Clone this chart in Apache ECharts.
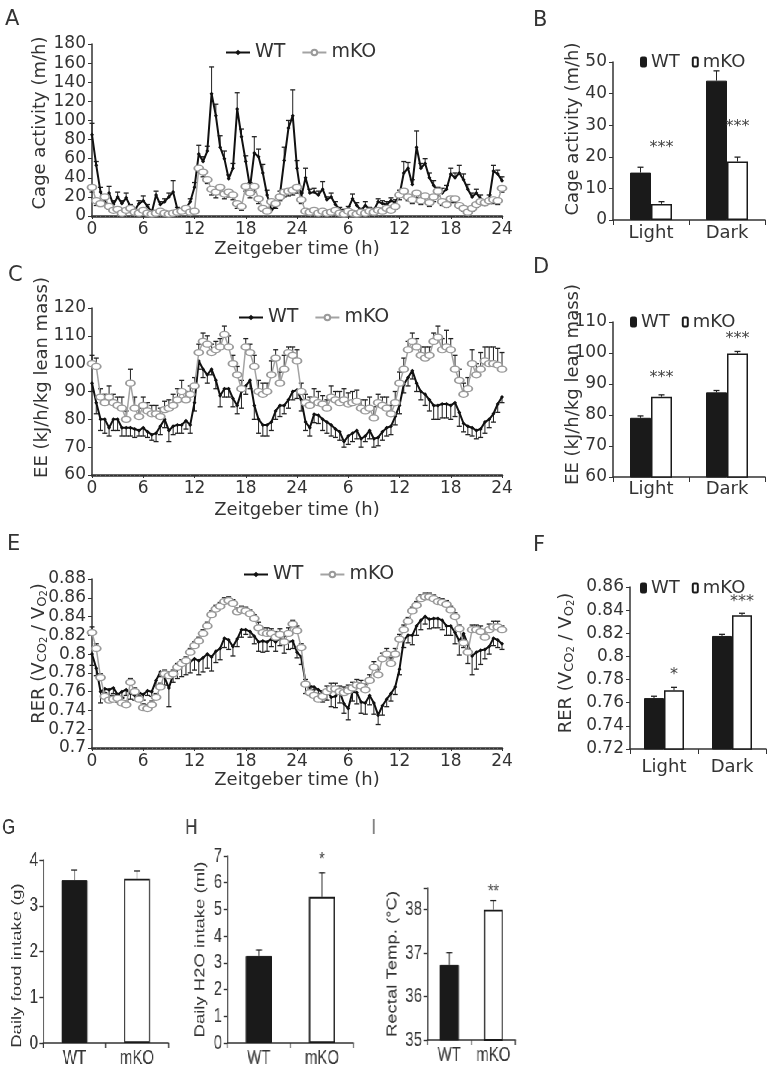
<!DOCTYPE html>
<html>
<head>
<meta charset="utf-8">
<title>Metabolic phenotype WT vs mKO</title>
<script src="https://cdn.jsdelivr.net/npm/echarts@6.0.0/dist/echarts.min.js"></script>
<style>
  html, body { margin: 0; padding: 0; background: #ffffff; }
  #page { position: relative; width: 773px; height: 1073px; overflow: hidden; background: #ffffff; }
  .layer { position: absolute; left: 0; top: 0; }
</style>
</head>
<body>
<div id="page"></div>
<script>
// ======================= DATA =======================
const TIME_STEP_H = 0.5;                       // sampling step of the time courses (h)
const HOUR_TICK_LABELS = ['0','6','12','18','24','6','12','18','24'];
const PHASES = ['Light', 'Dark'];
const GENOTYPES = ['WT', 'mKO'];

// --- A: cage activity (m/h), 0..48 h ---
const activityWT = [
  85,53,25,13,24,12,20,13,19,10,6,13,
  16,10,4,22,12,15,20,25,7,5,8,15,
  30,65,57,68,128,105,72,60,39,50,112,83,
  57,30,66,62,45,22,6,10,22,58,92,105,
  50,20,40,24,25,22,28,17,20,12,7,5,
  8,18,11,6,11,7,6,15,13,12,16,14,
  22,45,50,33,72,50,55,40,32,26,24,28,
  44,40,45,38,28,20,24,18,12,18,47,44,
  37];
const activityWTErr = [
  12,4,5,6,7,4,5,3,5,2,2,3,
  5,2,2,4,3,3,4,12,2,2,2,3,
  5,9,5,5,28,12,12,8,4,5,17,8,
  6,5,17,8,9,5,2,3,4,14,8,27,
  8,4,10,4,4,4,8,3,4,3,2,2,
  2,5,3,2,4,2,2,3,3,3,3,3,
  5,12,6,5,17,5,5,5,5,4,5,4,
  6,5,8,6,5,4,4,4,3,4,6,4,
  4];
const activityKO = [
  30,16,13,20,10,6,7,3,6,8,4,3,
  6,3,2,3,5,3,2,3,4,5,8,4,
  5,50,46,38,28,25,30,23,25,22,13,10,
  31,24,31,18,8,5,15,13,20,25,26,27,
  30,17,5,4,6,3,5,3,4,6,3,2,
  5,3,2,4,3,5,4,6,5,8,6,10,
  22,26,20,17,24,16,21,14,20,26,15,12,
  18,18,11,8,4,8,12,15,14,16,17,16,
  29];
const activityKOErr = [
  5,5,3,6,3,2,3,2,2,2,2,1,
  2,1,1,1,2,1,1,1,2,2,3,2,
  2,4,5,4,6,6,5,5,5,5,5,4,
  5,5,6,5,3,2,4,5,4,5,5,5,
  6,4,2,1,2,1,2,1,1,2,1,1,
  2,1,1,2,1,2,1,2,2,3,2,3,
  5,5,4,4,5,4,5,4,5,5,4,3,
  4,4,3,3,2,3,3,3,3,3,4,4,
  4];

// --- C: energy expenditure (kJ/h/kg lean mass) ---
const eeWT = [
  93,86,80,80,77,80,80,77,77,77,76.5,76,
  77,75.5,74.5,75,77.5,80,76,77.5,78,78,79.5,78,
  86,101,98,96,98,94,88.5,91,91,87.5,85,90,
  92,94,85,80,78,78,79,83,85,85,87,90,
  90.5,87,79,77,81.8,81.5,80,79,78,76.5,75.5,72,
  74,75,76,73,74,76,73,73.5,75.5,77,77.5,81,
  85,92.5,95,97.5,93,90,89,87,85,85,85.5,85.5,
  85,86,82.5,78.5,77.5,77,76,76.5,79,80,82,85.5,
  88];
const eeWTErr = [
  3,4,4,5,3,4,4,3,3,3,3,2,
  3,2,2,3,3,3,4,3,3,3,3,3,
  3,3,3,3,2,3,4,3,3,3,3,6,
  3,3,5,5,4,4,3,3,4,3,3,3,
  3,4,3,3,3,3,4,4,4,3,3,2,
  3,3,3,3,2,3,3,3,3,3,3,3,
  3,3,3,3,3,3,4,4,5,5,5,5,
  5,5,5,3,3,3,3,3,4,3,3,3,
  2];
const eeKO = [
  100,99,88,86,88,86,85,84,80,93,84,81,
  85,83,82,82,81,83.5,84,85,87,90,87,89,
  92,104,108,107,104,105,106,110.5,106,100,96,91,
  106,104,99,90,89,90,96,102,93,98,104,103,
  101,90,86,85,87,86,85.5,84,88,87,86,87,
  85.5,86,86.5,84,83,84,80.5,86,85,84,82,86,
  93,98,105,108,106,103,102,103,108,109.5,105,106,
  105,98,94,89,91,100,96,98,101,100,100,99.5,
  98];
const eeKOErr = [
  3,3,3,3,4,3,3,4,3,5,4,3,
  3,3,3,3,3,3,3,4,4,4,3,3,
  3,3,3,3,3,3,3,3,4,3,3,3,
  3,3,4,4,4,3,5,3,4,5,2,3,
  4,3,3,3,4,4,3,3,4,3,4,4,
  4,4,4,3,4,4,4,3,3,4,3,4,
  4,4,3,3,3,3,4,3,3,4,4,6,
  4,5,4,4,4,5,4,6,5,6,6,6,
  6];

// --- E: respiratory exchange ratio ---
const rerWT = [
  .800,.785,.760,.763,.762,.764,.757,.760,.762,.758,.756,.759,
  .757,.761,.760,.772,.781,.775,.764,.778,.784,.788,.790,.792,
  .795,.793,.796,.800,.797,.803,.806,.817,.815,.808,.816,.826,
  .826,.824,.819,.813,.814,.813,.816,.813,.817,.811,.813,.814,
  .802,.797,.770,.766,.765,.762,.759,.761,.754,.755,.760,.747,
  .742,.760,.759,.749,.748,.756,.748,.735,.745,.752,.758,.765,
  .784,.815,.820,.820,.830,.836,.840,.837,.838,.838,.836,.830,
  .830,.823,.814,.822,.810,.798,.802,.804,.805,.808,.817,.815,
  .811];
const rerWTErr = [
  .012,.008,.012,.008,.006,.006,.008,.006,.006,.006,.005,.006,
  .006,.005,.005,.006,.005,.008,.020,.008,.010,.012,.012,.012,
  .012,.015,.015,.015,.015,.012,.012,.010,.010,.010,.008,.008,
  .005,.006,.008,.010,.012,.010,.008,.010,.008,.010,.008,.008,
  .006,.008,.012,.010,.010,.010,.010,.010,.010,.012,.012,.010,
  .012,.010,.012,.012,.012,.010,.012,.010,.010,.008,.008,.008,
  .006,.008,.008,.010,.010,.010,.008,.010,.010,.010,.010,.010,
  .010,.012,.015,.015,.020,.020,.018,.015,.010,.008,.008,.008,
  .006];
const rerKO = [
  .823,.806,.775,.755,.751,.752,.753,.748,.746,.770,.760,.752,
  .743,.742,.746,.754,.765,.779,.777,.779,.786,.790,.793,.802,
  .809,.814,.822,.830,.842,.848,.851,.856,.857,.854,.845,.847,
  .846,.843,.838,.828,.823,.822,.822,.818,.821,.813,.822,.832,
  .825,.807,.768,.759,.756,.752,.755,.760,.763,.763,.760,.759,
  .761,.764,.767,.766,.762,.772,.786,.778,.795,.800,.790,.800,
  .816,.826,.835,.846,.852,.859,.861,.861,.859,.856,.855,.853,
  .847,.840,.827,.812,.802,.826,.826,.824,.818,.826,.829,.829,
  .826];
const rerKOErr = [
  .006,.005,.004,.004,.004,.004,.004,.005,.004,.004,.004,.004,
  .004,.004,.004,.004,.004,.004,.004,.004,.004,.004,.004,.004,
  .004,.004,.004,.004,.004,.004,.004,.004,.004,.004,.004,.004,
  .004,.004,.004,.006,.005,.006,.005,.006,.006,.006,.006,.004,
  .005,.004,.005,.005,.006,.006,.006,.006,.006,.006,.006,.006,
  .006,.006,.006,.006,.006,.006,.006,.006,.006,.006,.006,.006,
  .005,.005,.004,.004,.004,.004,.004,.004,.004,.004,.004,.004,
  .004,.004,.004,.004,.004,.005,.005,.006,.006,.006,.006,.006,
  .004];

// --- B / D / F: light vs dark phase means ---
const activityPhaseWT = [15.0, 44.1];   const activityPhaseWTErr = [1.7, 3.1];
const activityPhaseKO = [5.1, 18.5];    const activityPhaseKOErr = [0.7, 1.4];
const activityPhaseSig = ['***', '***'];

const eePhaseWT = [79.1, 87.3];         const eePhaseWTErr = [0.6, 0.6];
const eePhaseKO = [85.9, 99.8];         const eePhaseKOErr = [0.6, 0.7];
const eePhaseSig = ['***', '***'];

const rerPhaseWT = [0.764, 0.8177];     const rerPhaseWTErr = [0.0016, 0.0014];
const rerPhaseKO = [0.7707, 0.8355];    const rerPhaseKOErr = [0.0026, 0.0018];
const rerPhaseSig = ['*', '***'];

// --- G / H / I ---
const foodIntake = [3.56, 3.59];        const foodIntakeErr = [0.22, 0.17];
const waterIntake = [3.26, 5.47];       const waterIntakeErr = [0.22, 0.9];
const waterIntakeSig = ['', '*'];
const rectalTemp = [36.73, 38.0];       const rectalTempErr = [0.28, 0.21];
const rectalTempSig = ['', '**'];

// ======================= STYLE / LAYOUT =======================
const FONT_TOP = "'DejaVu Sans', 'Liberation Sans', sans-serif";
const FONT_BOT = "'Liberation Sans', Arial, sans-serif";
const TXT = '#333333';
const AX = '#333333';
const INK = '#1a1a1a';
const KO_GREY = '#a3a3a3';
const BOTTOM_SCALE_X = 0.75;            // bottom row of the figure is horizontally compressed

const page = document.getElementById('page');
function layer(parent, w, h) {
  const d = document.createElement('div');
  d.className = 'layer';
  d.style.width = w + 'px';
  d.style.height = h + 'px';
  parent.appendChild(d);
  return d;
}
function letterTitle(letter, xy, font, size) {
  return { text: letter, left: xy[0], top: xy[1], padding: 0,
    textStyle: { fontFamily: font, fontSize: size || 21, fontWeight: 'normal', color: TXT } };
}
function errRenderer(offsetPx, capHalf) {
  return function (params, api) {
    const x = api.value(0), y = api.value(1), e = api.value(2);
    const p0 = api.coord([x, y]);
    const p1 = api.coord([x, y + e]);
    const cx = p0[0] + offsetPx;
    return { type: 'group', children: [
      { type: 'line', shape: { x1: cx, y1: p0[1], x2: cx, y2: p1[1] }, style: { stroke: '#222', lineWidth: 1 } },
      { type: 'line', shape: { x1: cx - capHalf, y1: p1[1], x2: cx + capHalf, y2: p1[1] }, style: { stroke: '#222', lineWidth: 1.3 } }
    ] };
  };
}
function starRenderer(texts, offsetPx, font, size) {
  return function (params, api) {
    const p = api.coord([api.value(0), api.value(1)]);
    return { type: 'text', x: p[0] + offsetPx, y: p[1],
      style: { text: texts[params.dataIndex], fill: '#444', fontSize: size, fontFamily: font,
        align: 'center', verticalAlign: 'middle' } };
  };
}
const rerName = 'RER (V{s|CO}{b|2} / V{s|O}{b|2})';
function rerRich(font) {
  return {
    s: { fontSize: 13, fontFamily: font, color: TXT, verticalAlign: 'bottom', lineHeight: 20 },
    b: { fontSize: 10, fontFamily: font, color: TXT, verticalAlign: 'bottom', lineHeight: 20 }
  };
}

// ---------- time-course panels (A, C, E) ----------
function timePanel(P) {
  const chart = echarts.init(layer(page, 773, 1073), null, { renderer: 'canvas', width: 773, height: 1073 });
  const xy = vals => vals.map((v, i) => [i * TIME_STEP_H, v]);
  const xye = (vals, errs, sign) => vals.map((v, i) => [i * TIME_STEP_H, v, sign * errs[i]]);
  chart.setOption({
    animation: false,
    title: letterTitle(P.letter, P.letterXY, FONT_TOP),
    legend: {
      left: P.legendXY[0], top: P.legendXY[1], padding: 0, itemGap: 16, itemWidth: 24, itemHeight: 7,
      textStyle: { fontFamily: FONT_TOP, fontSize: 19, color: TXT },
      data: ['WT', 'mKO']
    },
    grid: Object.assign({ containLabel: false, outerBoundsMode: 'none' }, P.grid),
    xAxis: {
      type: 'value', min: 0, max: 48, interval: 6,
      name: 'Zeitgeber time (h)', nameLocation: 'middle', nameGap: P.xNameGap, nameMoveOverlap: false,
      nameTextStyle: { fontFamily: FONT_TOP, fontSize: 18, color: TXT },
      axisLine: { show: true, onZero: false, lineStyle: { color: AX, width: 2.5 } },
      axisTick: { show: true, length: 3, lineStyle: { color: AX, width: 1 } },
      minorTick: { show: true, splitNumber: 12, length: 2, lineStyle: { color: '#666', width: 1 } },
      splitLine: { show: false }, minorSplitLine: { show: false },
      axisLabel: { fontFamily: FONT_TOP, fontSize: 17, color: TXT, margin: 5, hideOverlap: false,
        formatter: v => HOUR_TICK_LABELS[Math.round(v / 6)] }
    },
    yAxis: {
      type: 'value', min: P.y.min, max: P.y.max, interval: P.y.interval,
      name: P.y.name, nameLocation: 'middle', nameGap: P.y.nameGap, nameMoveOverlap: false,
      nameTextStyle: { fontFamily: FONT_TOP, fontSize: 18, color: TXT, padding: [0, 0, 0, P.y.namePad],
        rich: rerRich(FONT_TOP) },
      axisLine: { show: true, onZero: false, lineStyle: { color: AX, width: 1.5 } },
      axisTick: { show: true, length: 4, lineStyle: { color: AX, width: 1 } },
      splitLine: { show: false },
      axisLabel: { fontFamily: FONT_TOP, fontSize: 17, color: TXT, margin: 6, hideOverlap: false }
    },
    series: [
      { type: 'custom', name: 'WT err', data: xye(P.wt, P.wtErr, P.wtSign), encode: { x: 0, y: 1 },
        renderItem: errRenderer(0, 2.5), silent: true, z: 1 },
      { type: 'custom', name: 'mKO err', data: xye(P.ko, P.koErr, P.koSign), encode: { x: 0, y: 1 },
        renderItem: errRenderer(0, 2.5), silent: true, z: 1 },
      { type: 'line', name: 'WT', data: xy(P.wt), symbol: 'diamond', symbolSize: 4,
        itemStyle: { color: '#111' }, lineStyle: { color: '#111', width: 2 }, z: 3 },
      { type: 'line', name: 'mKO', data: xy(P.ko), symbol: 'circle', symbolSize: [9, 6],
        itemStyle: { color: '#ffffff', borderColor: '#9a9a9a', borderWidth: 1.5 },
        lineStyle: { color: KO_GREY, width: 1.5 }, z: 4 }
    ]
  });
}

// ---------- phase bar panels (B, D, F) ----------
function phasePanel(P) {
  const chart = echarts.init(layer(page, 773, 1073), null, { renderer: 'canvas', width: 773, height: 1073 });
  const half = P.barW / 2;
  const withErr = (vals, errs) => vals.map((v, i) => [i, v, errs[i]]);
  chart.setOption({
    animation: false,
    title: letterTitle(P.letter, P.letterXY, FONT_TOP),
    legend: {
      left: P.legendXY[0], top: P.legendXY[1], padding: 0, itemGap: 12, itemWidth: 5, itemHeight: 9,
      textStyle: { fontFamily: FONT_TOP, fontSize: 18, color: TXT },
      data: ['WT', 'mKO']
    },
    grid: Object.assign({ containLabel: false, outerBoundsMode: 'none' }, P.grid),
    xAxis: {
      type: 'category', data: PHASES,
      axisLine: { show: true, lineStyle: { color: AX, width: 1.5 } },
      axisTick: { show: true, length: 5, alignWithLabel: false, lineStyle: { color: AX, width: 1 } },
      axisLabel: { fontFamily: FONT_TOP, fontSize: 18, color: TXT, margin: P.xLabelMargin,
        interval: 0, hideOverlap: false }
    },
    yAxis: {
      type: 'value', min: P.y.min, max: P.y.max, interval: P.y.interval,
      name: P.y.name, nameLocation: 'middle', nameGap: P.y.nameGap, nameMoveOverlap: false,
      nameTextStyle: { fontFamily: FONT_TOP, fontSize: 18, color: TXT, padding: [0, 0, 0, P.y.namePad],
        rich: rerRich(FONT_TOP) },
      axisLine: { show: true, lineStyle: { color: AX, width: 1.5 } },
      axisTick: { show: true, length: 4, lineStyle: { color: AX, width: 1 } },
      splitLine: { show: false },
      axisLabel: { fontFamily: FONT_TOP, fontSize: 17, color: TXT, margin: 6, hideOverlap: false }
    },
    series: [
      { type: 'bar', name: 'WT', data: P.wt, barWidth: P.barW, barGap: '0%',
        itemStyle: { color: INK, borderColor: INK, borderWidth: 1 } },
      { type: 'bar', name: 'mKO', data: P.ko, barWidth: P.barW, barGap: '0%',
        itemStyle: { color: '#ffffff', borderColor: INK, borderWidth: 1.5 } },
      { type: 'custom', data: withErr(P.wt, P.wtErr), encode: { x: 0, y: 1 },
        renderItem: errRenderer(-half, 3), silent: true, z: 5 },
      { type: 'custom', data: withErr(P.ko, P.koErr), encode: { x: 0, y: 1 },
        renderItem: errRenderer(half, 3), silent: true, z: 5 },
      { type: 'custom', data: P.starLevel.map((v, i) => [i, v]), encode: { x: 0, y: 1 },
        renderItem: starRenderer(P.sig, half, FONT_TOP, 16), silent: true, z: 6 }
    ]
  });
}

// ---------- genotype bar panels (G, H, I) in the compressed bottom row ----------
const bottomWrap = document.createElement('div');
bottomWrap.className = 'layer';
bottomWrap.style.width = (773 / BOTTOM_SCALE_X) + 'px';
bottomWrap.style.height = '1073px';
bottomWrap.style.transformOrigin = '0 0';
bottomWrap.style.transform = 'scaleX(' + BOTTOM_SCALE_X + ')';
page.appendChild(bottomWrap);
const sx = v => v / BOTTOM_SCALE_X;

function genoPanel(P) {
  const W = 773 / BOTTOM_SCALE_X;
  const chart = echarts.init(layer(bottomWrap, W, 1073), null, { renderer: 'canvas', width: W, height: 1073 });
  const barData = P.vals.map((v, i) => ({ value: v,
    itemStyle: i === 0 ? { color: INK, borderColor: INK, borderWidth: 1 }
                       : { color: '#ffffff', borderColor: INK, borderWidth: 1.8 } }));
  const series = [
    { type: 'bar', data: barData, barWidth: P.barW },
    { type: 'custom', data: P.vals.map((v, i) => [i, v, P.errs[i]]), encode: { x: 0, y: 1 },
      renderItem: errRenderer(0, 4), silent: true, z: 5 }
  ];
  if (P.sig) {
    series.push({ type: 'custom', data: P.vals.map((v, i) => [i, P.starLevel]), encode: { x: 0, y: 1 },
      renderItem: starRenderer(P.sig, 0, FONT_BOT, 19), silent: true, z: 6 });
  }
  chart.setOption({
    animation: false,
    title: letterTitle(P.letter, P.letterXY, FONT_BOT, 22),
    grid: Object.assign({ containLabel: false, outerBoundsMode: 'none' }, P.grid),
    xAxis: {
      type: 'category', data: GENOTYPES,
      axisLine: { show: true, lineStyle: { color: AX, width: 1.6 } },
      axisTick: { show: true, length: 5, alignWithLabel: false, lineStyle: { color: AX, width: 1.4 } },
      axisLabel: { fontFamily: FONT_BOT, fontSize: 20, color: TXT, margin: 5, interval: 0, hideOverlap: false }
    },
    yAxis: {
      type: 'value', min: P.y.min, max: P.y.max, interval: P.y.interval,
      name: P.y.name, nameLocation: 'middle', nameGap: P.y.nameGap, nameMoveOverlap: false,
      nameTextStyle: { fontFamily: FONT_BOT, fontSize: 18.5, color: TXT, padding: P.y.namePadding },
      axisLine: { show: true, lineStyle: { color: AX, width: 1.6 } },
      axisTick: { show: true, length: 5, lineStyle: { color: AX, width: 1.4 } },
      splitLine: { show: false },
      axisLabel: { fontFamily: FONT_BOT, fontSize: 20, color: TXT, margin: 7, hideOverlap: false,
        formatter: v => (Number.isInteger(v) ? String(v) : '') }
    },
    series: series
  });
}

// ======================= BUILD =======================
timePanel({ letter: 'A', letterXY: [5, 9], legendXY: [225, 43], xNameGap: 24,
  grid: { left: 92, top: 44, width: 410, height: 172 },
  y: { min: 0, max: 180, interval: 20, name: 'Cage activity (m/h)', nameGap: 43, namePad: 14 },
  wt: activityWT, wtErr: activityWTErr, wtSign: 1, ko: activityKO, koErr: activityKOErr, koSign: -1 });

timePanel({ letter: 'C', letterXY: [8, 265], legendXY: [238, 308], xNameGap: 26,
  grid: { left: 92, top: 308, width: 410, height: 167 },
  y: { min: 60, max: 120, interval: 10, name: 'EE (kJ/h/kg lean mass)', nameGap: 41, namePad: 28 },
  wt: eeWT, wtErr: eeWTErr, wtSign: -1, ko: eeKO, koErr: eeKOErr, koSign: 1 });

timePanel({ letter: 'E', letterXY: [7, 534], legendXY: [243, 565], xNameGap: 23,
  grid: { left: 92, top: 579, width: 410, height: 169 },
  y: { min: 0.7, max: 0.88, interval: 0.02, name: rerName, nameGap: 43, namePad: 20 },
  wt: rerWT, wtErr: rerWTErr, wtSign: -1, ko: rerKO, koErr: rerKOErr, koSign: 1 });

phasePanel({ letter: 'B', letterXY: [533, 10], legendXY: [640, 53], xLabelMargin: 4, barW: 21,
  grid: { left: 613, top: 62, width: 152, height: 158 },
  y: { min: 0, max: 50, interval: 10, name: 'Cage activity (m/h)', nameGap: 31, namePad: 24 },
  wt: activityPhaseWT, wtErr: activityPhaseWTErr, ko: activityPhaseKO, koErr: activityPhaseKOErr,
  sig: activityPhaseSig, starLevel: [22.8, 29.4] });

phasePanel({ letter: 'D', letterXY: [533, 257], legendXY: [630, 313], xLabelMargin: 3, barW: 21,
  grid: { left: 613, top: 322, width: 152, height: 155 },
  y: { min: 60, max: 110, interval: 10, name: 'EE (kJ/h/kg lean mass)', nameGap: 31, namePad: 30 },
  wt: eePhaseWT, wtErr: eePhaseWTErr, ko: eePhaseKO, koErr: eePhaseKOErr,
  sig: eePhaseSig, starLevel: [91.9, 104.5] });

phasePanel({ letter: 'F', letterXY: [533, 535], legendXY: [640, 579], xLabelMargin: 9, barW: 20,
  grid: { left: 630, top: 587, width: 136, height: 162 },
  y: { min: 0.72, max: 0.86, interval: 0.02, name: rerName, nameGap: 54, namePad: 10 },
  wt: rerPhaseWT, wtErr: rerPhaseWTErr, ko: rerPhaseKO, koErr: rerPhaseKOErr,
  sig: rerPhaseSig, starLevel: [0.784, 0.847] });

genoPanel({ letter: 'G', letterXY: [sx(2), 817], barW: sx(26),
  grid: { left: sx(43), top: 860, width: sx(125), height: 183 },
  y: { min: 0, max: 4, interval: 1, name: 'Daily food intake (g)', nameGap: 25, namePadding: [0, 28, 0, 0] },
  vals: foodIntake, errs: foodIntakeErr });

genoPanel({ letter: 'H', letterXY: [sx(185), 817], barW: sx(26),
  grid: { left: sx(227), top: 856, width: sx(126), height: 187 },
  y: { min: 0, max: 7, interval: 1, name: 'Daily H2O intake (ml)', nameGap: 26, namePadding: [0, 0, 0, 0] },
  vals: waterIntake, errs: waterIntakeErr, sig: waterIntakeSig, starLevel: 6.85 });

genoPanel({ letter: 'I', letterXY: [sx(371), 817], barW: sx(19),
  grid: { left: sx(427), top: 888, width: sx(88), height: 152 },
  y: { min: 35, max: 38.5, interval: 1, name: 'Rectal Temp. (°C)', nameGap: 37, namePadding: [0, 0, 0, 0] },
  vals: rectalTemp, errs: rectalTempErr, sig: rectalTempSig, starLevel: 38.42 });
</script>
</body>
</html>
